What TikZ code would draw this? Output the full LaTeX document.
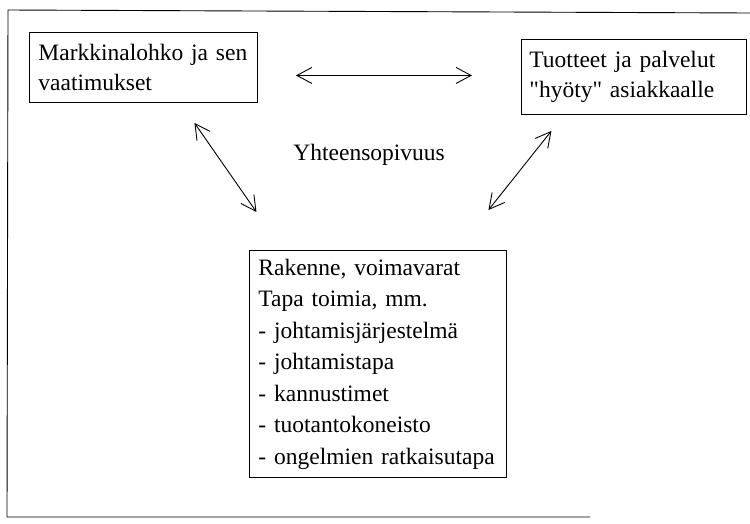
\documentclass[tikz,border=0pt]{standalone}
\usepackage{fontspec}
\setmainfont{Liberation Serif}[Ligatures=TeXOff]
\usetikzlibrary{arrows.meta,calc}
\begin{document}
\begin{tikzpicture}[x=1pt,y=-1pt,
  line width=0.9pt,
  txt/.style={font=\fontsize{23.5}{30}\selectfont},
  box/.style={draw, txt, align=left, anchor=north west, inner xsep=9pt, inner ysep=0pt},
  arr/.style={{Straight Barb[length=15pt,width=16pt]}-{Straight Barb[length=15pt,width=16pt]}}
]
\useasboundingbox (0,0) rectangle (750,523);
% outer frame (as scanned: right side missing)
\draw (750,13) -- (8,10) -- (7,517) -- (590,517);

\node[box, minimum width=228pt, minimum height=70pt, text width=210pt] (b1) at (29,32)
  {Markkinalohko ja sen\\vaatimukset};
\node[box, minimum width=225pt, minimum height=75pt, text width=209pt, inner xsep=8pt] (b2) at (521,39)
  {Tuotteet ja palvelut\\"hyöty" asiakkaalle};
\node[box, minimum width=257pt, minimum height=227pt, text width=239pt,
      font=\fontsize{23.5}{31.5}\selectfont] (b3) at (249,250)
  {Rakenne, voimavarat\\Tapa toimia, mm.\\- johtamisjärjestelmä\\- johtamistapa\\- kannustimet\\- tuotantokoneisto\\- ongelmien ratkaisutapa};

\node[txt, anchor=base west, inner sep=0pt] (yh) at (293,160) {Yhteensopivuus};

\draw[arr] ($(b1.east)+(38,8)$) -- ($(b2.west)+(-49,-1.5)$);
\draw[arr] ($(b1.south)+(51,20)$) -- ($(b3.north)+(-121.5,-38)$);
\draw[arr] ($(b2.south)+(-82.5,16)$) -- ($(b3.north)+(110.5,-40)$);
\end{tikzpicture}
\end{document}
